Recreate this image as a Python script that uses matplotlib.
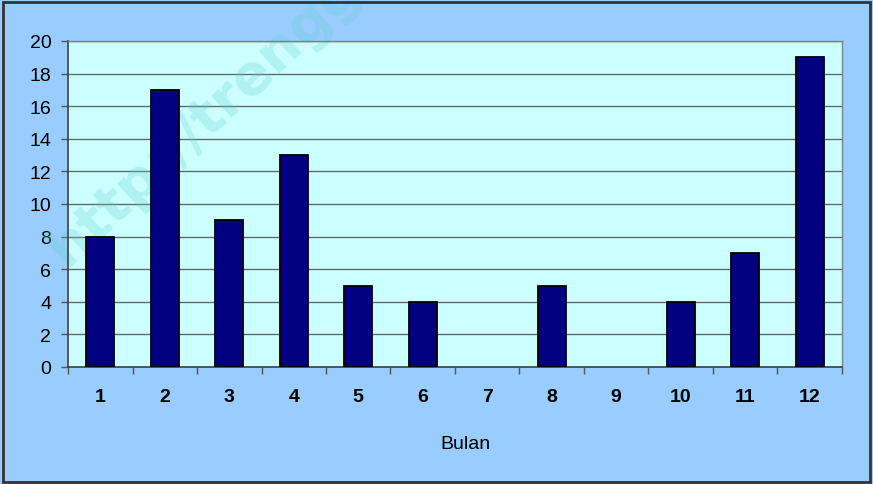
import matplotlib.pyplot as plt
from matplotlib.patches import Rectangle

# monthly counts
bulan = [1, 2, 3, 4, 5, 6, 7, 8, 9, 10, 11, 12]
jumlah = [8, 17, 9, 13, 5, 4, 0, 5, 0, 4, 7, 19]
y_ticks = list(range(0, 21, 2))

plt.rcParams['font.family'] = ['Liberation Sans', 'DejaVu Sans']

fig = plt.figure(figsize=(8.73, 4.85), dpi=100, facecolor='#99ccff')
ax = fig.add_axes([68 / 873, 117 / 485, 774 / 873, 326 / 485])
ax.set_facecolor('#ccffff')

pos = list(range(len(bulan)))
edges = ['black' if v > 0 else 'none' for v in jumlah]
ax.bar(pos, jumlah, width=0.44, color='#000080', edgecolor=edges,
       linewidth=1.3, zorder=3)

ax.set_xlim(-0.5, len(bulan) - 0.5)
ax.set_ylim(0, 20)
ax.set_yticks(y_ticks)
ax.set_yticklabels([str(v) for v in y_ticks], fontsize=14)
ax.grid(axis='y', color='#5f6b6b', linewidth=1, zorder=1)
ax.set_axisbelow(True)

# ticks between categories, labels at category centres
ax.set_xticks([p - 0.5 for p in pos] + [len(bulan) - 0.5])
ax.set_xticklabels([])
ax.set_xticks(pos, minor=True)
ax.set_xticklabels([str(b) for b in bulan], minor=True,
                   fontsize=14, fontweight='bold')
ax.tick_params(axis='x', which='major', length=5, width=1, color='#555555')
ax.tick_params(axis='x', which='minor', length=0, pad=15)
ax.tick_params(axis='y', length=5, width=1, color='#555555', pad=7)

for s in ['top', 'right']:
    ax.spines[s].set_color('#808080')
    ax.spines[s].set_linewidth(1)
for s in ['left', 'bottom']:
    ax.spines[s].set_color('#404040')
    ax.spines[s].set_linewidth(1.2)

fig.text(465 / 873, 1 - 445 / 485, 'Bulan', fontsize=14,
         ha='center', va='center')

# faint watermark (cut by the top edge, as in the original)
ax.text(66 / 873, 1 - 268 / 485, 'http://trengg', fontsize=40,
        family='DejaVu Sans', fontweight='bold', rotation=43,
        color='#66cccc', alpha=0.28, ha='left', va='baseline',
        rotation_mode='anchor', transform=fig.transFigure,
        clip_on=False, zorder=2)

# outer chart border
fig.patches.append(Rectangle((3 / 873, 2 / 485), 867 / 873, 480 / 485,
                             transform=fig.transFigure, fill=False,
                             edgecolor='#333333', linewidth=2))

fig.savefig('out.png', dpi=100, facecolor=fig.get_facecolor())
